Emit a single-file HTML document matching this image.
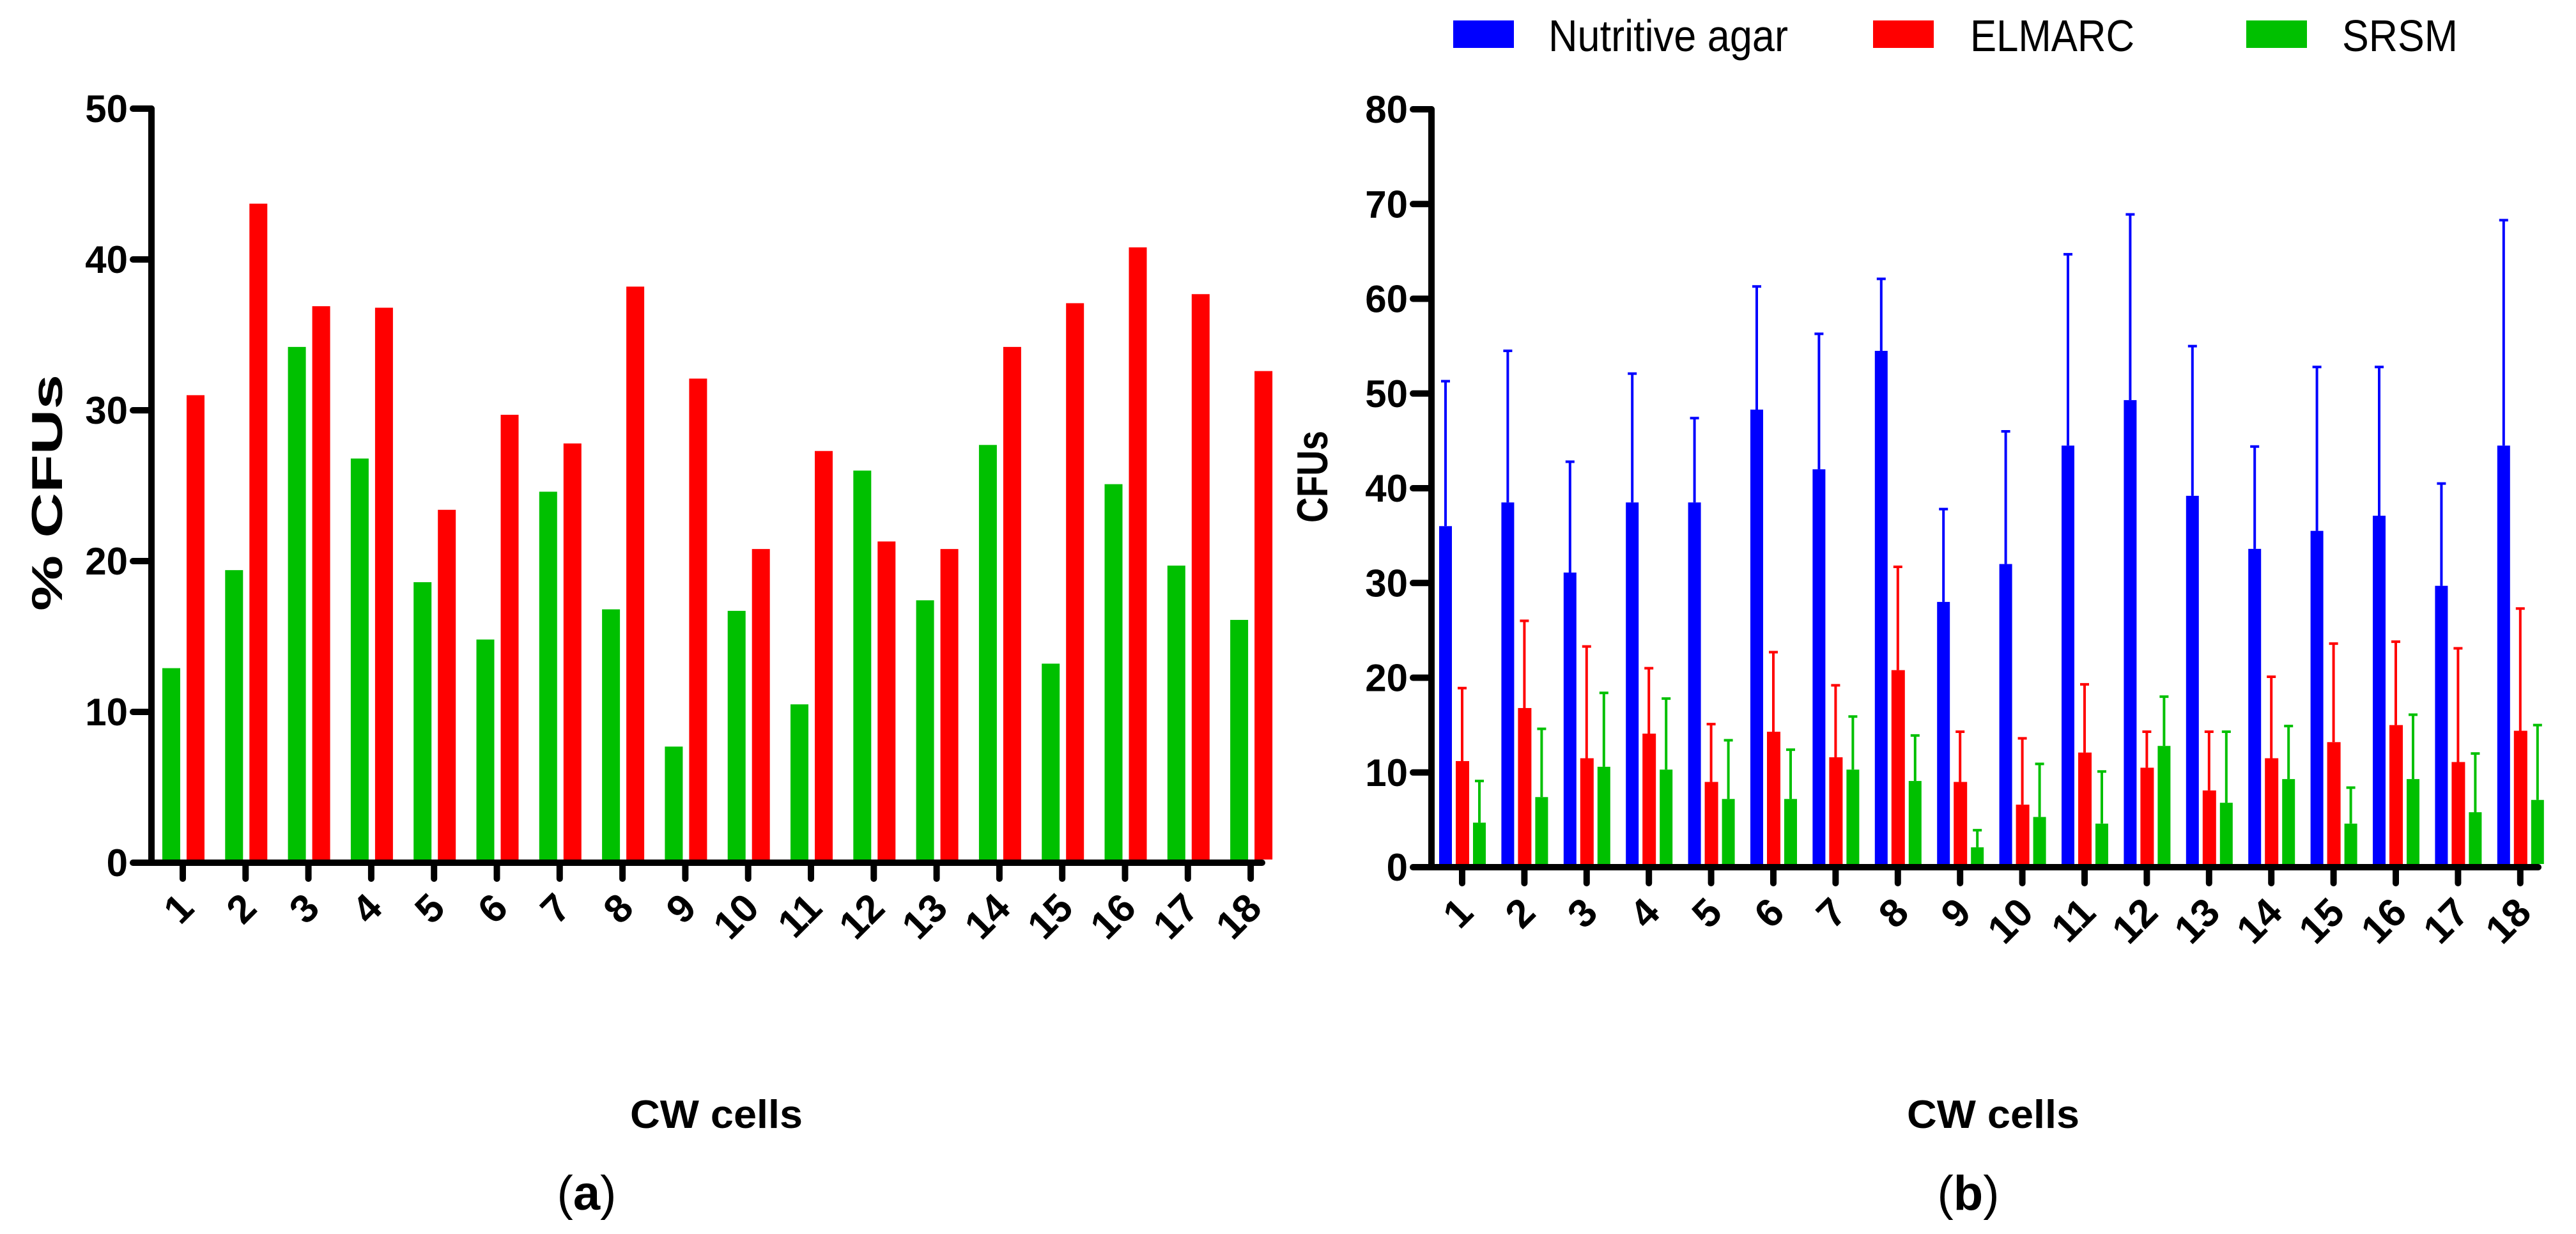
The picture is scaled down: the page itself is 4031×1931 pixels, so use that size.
<!DOCTYPE html>
<html><head><meta charset="utf-8"><style>
html,body{margin:0;padding:0;background:#fff;}
svg{display:block;}
text{font-family:"Liberation Sans",Arial,sans-serif;}
</style></head><body>
<svg id="fig" width="4031" height="1931" viewBox="0 0 4031 1931" xmlns="http://www.w3.org/2000/svg">
<g id="chartA"></g>
<g id="chartB"></g>
</svg>
<script>
const categories = ["1","2","3","4","5","6","7","8","9","10","11","12","13","14","15","16","17","18"];
const aGreen = [12.9,19.4,34.2,26.8,18.6,14.8,24.6,16.8,7.7,16.7,10.5,26.0,17.4,27.7,13.2,25.1,19.7,16.1];
const aRed = [31.0,43.7,36.9,36.8,23.4,29.7,27.8,38.2,32.1,20.8,27.3,21.3,20.8,34.2,37.1,40.8,37.7,32.6];
const aTicks = [0,10,20,30,40,50];
const bBlue = [36,38.5,31.1,38.5,38.5,48.3,42,54.5,28,32,44.5,49.3,39.2,33.6,35.5,37.1,29.7,44.5];
const bBlueErr = [51.3,54.5,42.8,52.1,47.4,61.3,56.3,62.1,37.8,46,64.7,68.9,55,44.4,52.8,52.8,40.5,68.3];
const bRed = [11.2,16.8,11.5,14.1,9,14.3,11.6,20.8,9,6.6,12.1,10.5,8.1,11.5,13.2,15,11.1,14.4];
const bRedErr = [18.9,26,23.3,21,15.1,22.7,19.2,31.7,14.3,13.6,19.3,14.3,14.3,20.1,23.6,23.8,23.1,27.3];
const bGreen = [4.7,7.4,10.6,10.3,7.2,7.2,10.3,9.1,2.1,5.3,4.6,12.8,6.8,9.3,4.6,9.3,5.8,7.1];
const bGreenErr = [9.1,14.6,18.4,17.8,13.4,12.4,15.9,13.9,3.9,10.9,10.1,18,14.3,14.9,8.4,16.1,12,15];
const bTicks = [0,10,20,30,40,50,60,70,80];

const NS="http://www.w3.org/2000/svg";
function mk(parent,tag,attrs,txt){const e=document.createElementNS(NS,tag);for(const k in attrs)e.setAttribute(k,attrs[k]);if(txt!==undefined)e.textContent=txt;parent.appendChild(e);return e;}

function drawAxes(g,ax,name){
  const ya=mk(g,'line',{x1:ax.x0,y1:ax.yTop,x2:ax.x0,y2:ax.y0,stroke:'#000','stroke-width':10,'stroke-linecap':'round'});
  
  
  const xa=mk(g,'line',{x1:ax.x0,y1:ax.y0,x2:ax.xEnd,y2:ax.y0,stroke:'#000','stroke-width':10,'stroke-linecap':'round'});
  
  
  ax.ticks.forEach(t=>{
    const y=ax.sy(t);
    const tl=mk(g,'line',{x1:ax.x0-29,y1:y,x2:ax.x0,y2:y,stroke:'#000','stroke-width':10,'stroke-linecap':'round'});
    
    
    const tx=mk(g,'text',{x:ax.x0-37,y:y+21,'text-anchor':'end','font-size':60,'font-weight':'bold'},String(t));
    
    
  });
  categories.forEach((c,i)=>{
    const x=ax.sx(i);
    const tl=mk(g,'line',{x1:x,y1:ax.y0,x2:x,y2:ax.y0+25,stroke:'#000','stroke-width':10,'stroke-linecap':'round'});
    
    
    const lx=x+6, ly=ax.y0+60;
    const tx=mk(g,'text',{x:lx,y:ly,'text-anchor':'end','dominant-baseline':'central','font-size':62,'font-weight':'bold',transform:`rotate(-45 ${lx} ${ly})`},c);
    
    
  });
}
function bar(g,x,w,v,ax,color,nm){
  const yt=ax.sy(v);
  const r=mk(g,'rect',{x:x,y:yt,width:w,height:ax.y0-5-yt,fill:color});
  
  
}
function err(g,cx,v,e,ax,color,nm){
  const y1=ax.sy(v), y2=ax.sy(e);
  const l=mk(g,'path',{d:`M${cx} ${y1} V${y2} M${cx-7} ${y2} H${cx+7}`,stroke:color,'stroke-width':4,fill:'none'});
  
  
}

(function(){
  const g=document.getElementById('chartA');
  const ax={x0:237,y0:1350,yTop:170,xEnd:1975,ticks:aTicks};
  ax.sy=v=>ax.y0-(v/50)*(ax.y0-ax.yTop);
  ax.sx=i=>286+i*98.3;
  categories.forEach((c,i)=>{
    const t=ax.sx(i);
    bar(g,t-32,28,aGreen[i],ax,'#00c000','bar-a-green-'+c);
    bar(g,t+6,28,aRed[i],ax,'#ff0000','bar-a-red-'+c);
  });
  drawAxes(g,ax,'a');
  const yt=mk(g,'text',{x:0,y:0,'text-anchor':'middle','font-size':68,'font-weight':'bold',textLength:370,lengthAdjust:'spacingAndGlyphs',transform:'translate(97 771) rotate(-90)'},'% CFUs');
  
  
  const xt=mk(g,'text',{x:1121,y:1765,'text-anchor':'middle','font-size':62,'font-weight':'bold',textLength:270,lengthAdjust:'spacingAndGlyphs'},'CW cells');
  
  
  const cap=mk(g,'text',{x:918,y:1893,'text-anchor':'middle','font-size':76,'font-family':'Liberation Serif, serif'});
  
  
  cap.innerHTML='(<tspan font-weight="bold">a</tspan>)';
})();

(function(){
  const g=document.getElementById('chartB');
  const ax={x0:2240,y0:1357,yTop:171,xEnd:3972,ticks:bTicks};
  ax.sy=v=>ax.y0-(v/80)*(ax.y0-ax.yTop);
  ax.sx=i=>2288+i*97.4;
  categories.forEach((c,i)=>{
    const t=ax.sx(i);
    err(g,t-26,bBlue[i],bBlueErr[i],ax,'#0000ff','err-b-blue-'+c);
    err(g,t,bRed[i],bRedErr[i],ax,'#ff0000','err-b-red-'+c);
    err(g,t+27,bGreen[i],bGreenErr[i],ax,'#00c000','err-b-green-'+c);
    bar(g,t-36,20,bBlue[i],ax,'#0000ff','bar-b-blue-'+c);
    bar(g,t-10,21,bRed[i],ax,'#ff0000','bar-b-red-'+c);
    bar(g,t+17,20,bGreen[i],ax,'#00c000','bar-b-green-'+c);
  });
  drawAxes(g,ax,'b');
  const yt=mk(g,'text',{x:0,y:0,'text-anchor':'middle','font-size':68,'font-weight':'bold',textLength:144,lengthAdjust:'spacingAndGlyphs',transform:'translate(2077 746) rotate(-90)'},'CFUs');
  
  
  const xt=mk(g,'text',{x:3119,y:1765,'text-anchor':'middle','font-size':62,'font-weight':'bold',textLength:270,lengthAdjust:'spacingAndGlyphs'},'CW cells');
  
  
  const cap=mk(g,'text',{x:3080,y:1893,'text-anchor':'middle','font-size':76,'font-family':'Liberation Serif, serif'});
  
  
  cap.innerHTML='(<tspan font-weight="bold">b</tspan>)';
  const leg=[["Nutritive agar","#0000ff",2274,2423,375],["ELMARC","#ff0000",2931,3083,257],["SRSM","#00c000",3515,3665,181]];
  leg.forEach(l=>{
    const s=mk(g,'rect',{x:l[2],y:32,width:95,height:43,fill:l[1]});
    
    
    const t=mk(g,'text',{x:l[3],y:80,'font-size':70,textLength:l[4],lengthAdjust:'spacingAndGlyphs'},l[0]);
    
    
  });
})();
</script>
</body></html>
